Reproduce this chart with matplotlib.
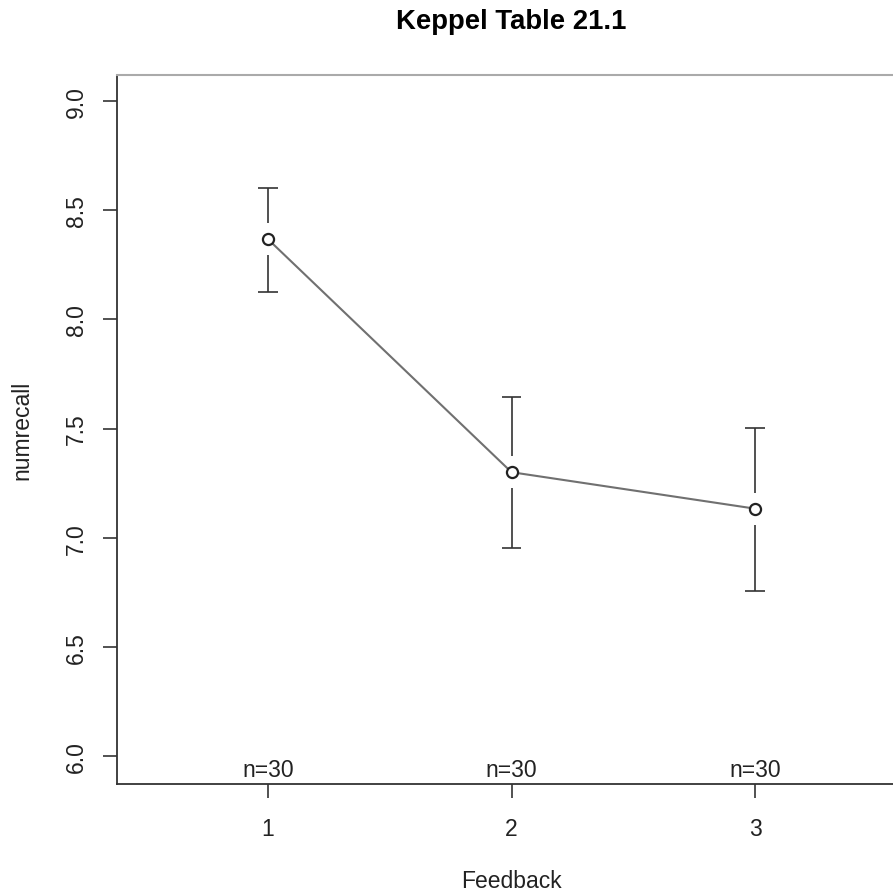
import matplotlib
matplotlib.use("Agg")
import matplotlib.pyplot as plt
import numpy as np

plt.rcParams['font.family'] = ['Liberation Sans', 'DejaVu Sans']

# data
feedback = [1, 2, 3]
means = [8.367, 7.300, 7.133]
ci_low = [8.127, 6.955, 6.758]
ci_high = [8.603, 7.643, 7.502]
counts = [30, 30, 30]
yticks = [6.0, 6.5, 7.0, 7.5, 8.0, 8.5, 9.0]

FS = 16.5

fig = plt.figure(figsize=(8.93, 8.95), dpi=100)
ax = fig.add_axes([117 / 893, 1 - 785 / 895, (906 - 117) / 893, (785 - 76) / 895])

ax.set_xlim(0.38, 3.62)
ax.set_ylim(5.872, 9.119)

x = np.array(feedback)
m = np.array(means)
lo = np.array(ci_low)
hi = np.array(ci_high)

# gap around the point, R plotCI style
gap = 0.073
ax.plot(x, m, color='#707070', lw=1.5, zorder=2)
ax.vlines(x, m + gap, hi, color='#333333', lw=1.2, zorder=2)
ax.vlines(x, lo, m - gap, color='#333333', lw=1.2, zorder=2)
ax.hlines(hi, x - 0.04, x + 0.04, color='#333333', lw=1.2)
ax.hlines(lo, x - 0.04, x + 0.04, color='#333333', lw=1.2)
ax.plot(x, m, 'o', ms=8, mfc='white', mec='#222222', mew=1.6, zorder=3)

for xi, n in zip(feedback, counts):
    ax.text(xi, 5.872 + 0.015, f"n={n}", ha='center', va='bottom', fontsize=FS, color='#222222')

ax.set_xticks(feedback)
ax.set_xticklabels([str(v) for v in feedback])
ax.set_yticks(yticks)
ax.set_yticklabels([f"{v:.1f}" for v in yticks], rotation=90, va='center')
ax.tick_params(axis='both', direction='out', length=10, width=1.2, color='#333333',
               labelsize=FS, labelcolor='#222222')
ax.tick_params(axis='x', pad=14)
ax.tick_params(axis='y', pad=11)

for side in ['left', 'bottom', 'right']:
    ax.spines[side].set_color('#333333')
    ax.spines[side].set_linewidth(1.3)
ax.spines['top'].set_color('#aaaaaa')
ax.spines['top'].set_linewidth(1.5)

fig.text(511 / 893, 1 - 882 / 895, "Feedback", ha='center', va='center',
         fontsize=FS, color='#222222')
fig.text(22 / 893, 1 - 430 / 895, "numrecall", ha='center', va='center',
         rotation=90, fontsize=FS, color='#222222')
fig.text(511 / 893, 1 - 22 / 895, "Keppel Table 21.1", ha='center', va='center',
         fontsize=19.8, fontweight='bold')

fig.savefig("out.png", dpi=100)
